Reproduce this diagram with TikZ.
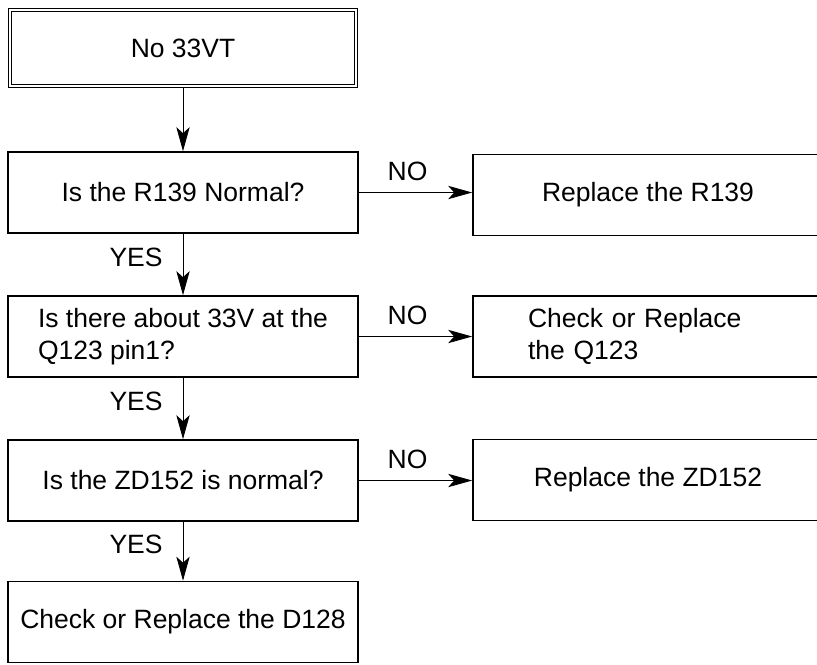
\documentclass[tikz,border=0pt]{standalone}
\usepackage{fontspec}
\setmainfont{Liberation Sans}
\usetikzlibrary{arrows.meta}

\begin{document}
\begin{tikzpicture}[x=0.03cm, y=-0.03cm, every node/.style={font=\fontsize{22.6}{27.3}\selectfont}, box/.style={draw, line width=1.4pt, minimum width=10.5cm, minimum height=2.43cm, inner sep=0pt}, link/.style={-{Stealth[length=7.2mm, width=4mm, inset=1.8mm]}, line width=0.8pt}, yes/.style={left=6mm, inner sep=0pt, pos=0.38}, no/.style={above=3.5mm, inner sep=0pt, pos=0.43}]
	\clip (0,0) rectangle (817,664);
	\node[box, double, line width=0.9pt, double distance=1.6pt, minimum width=10.4cm, minimum height=2.29cm] (start) at (183,48) {No 33VT};
	\node[box] (qr) at (183,192.5) {Is the R139 Normal?};
	\node[box, align=left] (qq) at (183,336.5) {Is there about 33V at the\\Q123 pin1?};
	\node[box] (qzd) at (183,480.5) {Is the ZD152 is normal?};
	\node[box] (checkd) at (183,622) {Check or Replace the D128};
	\node[box] (repr) at (648,195) {Replace the R139};
	\node[box, align=left, text width=7.2cm] (checkq) at (648,336.5) {Check or Replace\\the Q123};
	\node[box] (repzd) at (648,480) {Replace the ZD152};
	\draw[link] (start) -- (qr);
	\draw[link] (qr) -- node[yes] {YES} (qq);
	\draw[link] (qq) -- node[yes] {YES} (qzd);
	\draw[link] (qzd) -- node[yes] {YES} (checkd);
	\draw[link] (qr.east) -- node[no] {NO} (qr.east -| repr.west);
	\draw[link] (qq.east) -- node[no] {NO} (qq.east -| checkq.west);
	\draw[link] (qzd.east) -- node[no] {NO} (qzd.east -| repzd.west);
\end{tikzpicture}
\end{document}
